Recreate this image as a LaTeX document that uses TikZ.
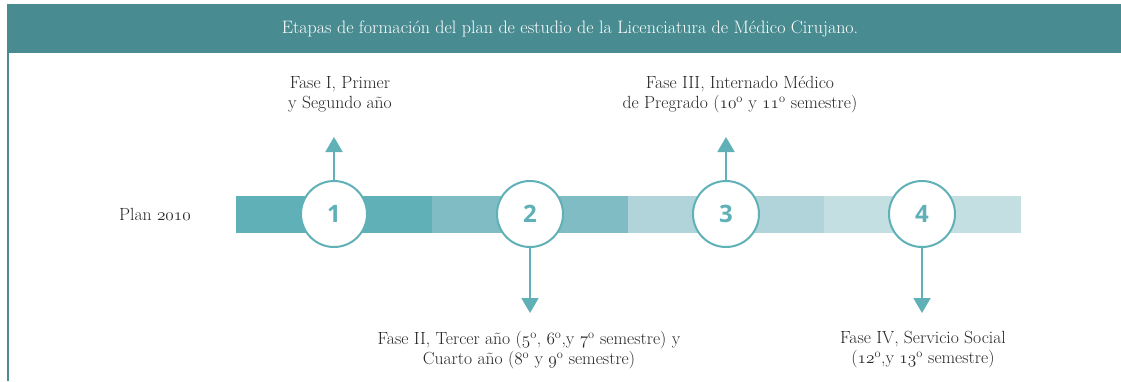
\documentclass[tikz,border=0pt]{standalone}
\usepackage{fontspec}
\newfontfamily\numfont{Open Sans}
\usetikzlibrary{arrows.meta}
\definecolor{hdr}{HTML}{488B91}
\definecolor{c1}{HTML}{5FB0B7}
\definecolor{c2}{HTML}{80BCC3}
\definecolor{c3}{HTML}{B0D4D9}
\definecolor{c4}{HTML}{C3DFE2}
\definecolor{txt}{HTML}{262626}
\newcommand{\osf}[1]{{\usefont{OML}{cmm}{m}{it}#1}}
\newcommand{\ordo}{\textsuperscript{o}}
\tikzset{
  seg/.style={rectangle, draw=none, minimum width=197pt, minimum height=37pt, inner sep=0pt},
  circ/.style={circle, draw=c1, line width=2pt, fill=white, minimum size=66pt, inner sep=0pt,
    text=c1, font=\numfont\bfseries\fontsize{24}{24}\selectfont},
  arr/.style={draw=c1, line width=2pt, -{Triangle[width=17pt,length=15pt]}},
  lbl/.style={align=center, text=txt, inner sep=0pt, font=\fontsize{17.6}{20}\selectfont},
}
\begin{document}
\begin{tikzpicture}[x=1pt,y=-1pt]
\useasboundingbox (0,0) rectangle (1121,381);
\fill[hdr] (7,4) rectangle (1121,53);
\node[text=white, inner sep=0pt, font=\fontsize{18}{20}\selectfont] (title) at (570,29) {Etapas de formación del plan de estudio de la Licenciatura de Médico Cirujano.};
\draw[hdr, line width=2pt] (8,53) -- (8,381);
\node[seg, fill=c1] (s1) at (334,214.5) {};
\node[seg, fill=c2] (s2) at (530,214.5) {};
\node[seg, fill=c3] (s3) at (726.5,214.5) {};
\node[seg, fill=c4] (s4) at (922.5,214.5) {};
\node[lbl] (plan) at (155,214) {Plan \osf{2010}};
\node[circ] (n1) at (334,214) {1};
\node[circ] (n2) at (530,214) {2};
\node[circ] (n3) at (726,214) {3};
\node[circ] (n4) at (922,214) {4};
\coordinate (t1) at (334,137);
\coordinate (t2) at (530,313);
\coordinate (t3) at (726,137);
\coordinate (t4) at (922,313);
\draw[arr] (n1.north) -- (t1);
\draw[arr] (n2.south) -- (t2);
\draw[arr] (n3.north) -- (t3);
\draw[arr] (n4.south) -- (t4);
\node[lbl] (l1) at (340,94.5) {Fase I, Primer\\y Segundo año};
\node[lbl] (l3) at (740,94.5) {Fase III, Internado Médico\\de Pregrado (\osf{10}\ordo{} y \osf{11}\ordo{} semestre)};
\node[lbl] (l2) at (529,350) {Fase II, Tercer año (\osf{5}\ordo, \osf{6}\ordo,y \osf{7}\ordo{} semestre) y\\Cuarto año (\osf{8}\ordo{} y \osf{9}\ordo{} semestre)};
\node[lbl] (l4) at (923,350) {Fase IV, Servicio Social\\(\osf{12}\ordo,y \osf{13}\ordo{} semestre)};
\end{tikzpicture}
\end{document}
